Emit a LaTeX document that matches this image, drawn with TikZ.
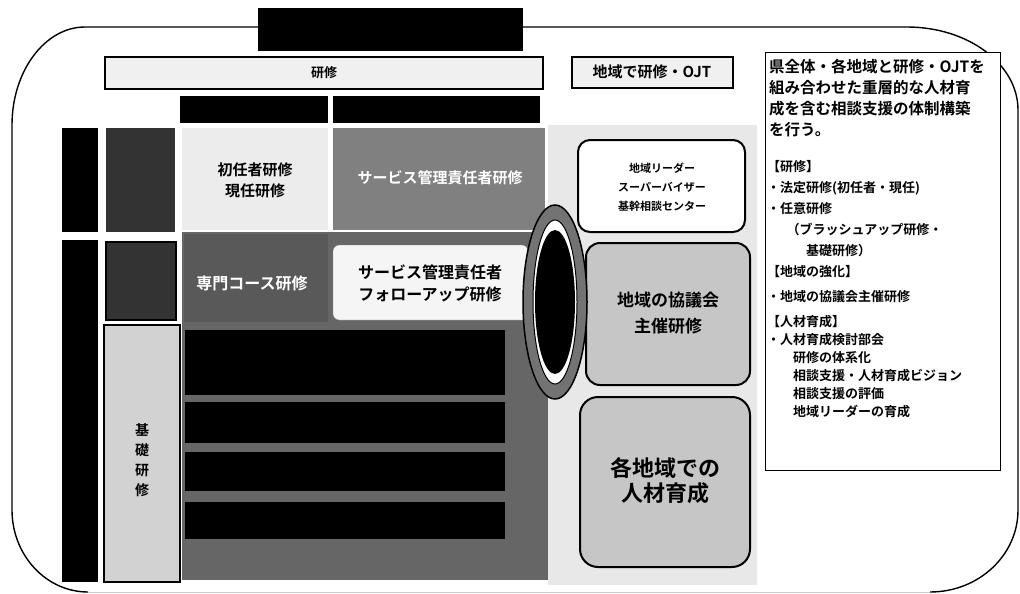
\documentclass[tikz,border=0pt]{standalone}
\usepackage{fontspec}
\newfontfamily\jp{Noto Sans CJK JP}[BoldFont={Noto Sans CJK JP Bold}]
\usetikzlibrary{positioning}
\tikzset{
  lbl/.style={font=\jp\bfseries, align=center, inner sep=0pt},
  banner/.style={draw=black, line width=2pt, fill=gray!12},
  darkbox/.style={fill=black!80},
  roundbox/.style={draw=black, line width=2pt, rounded corners=14pt},
}
\begin{document}
\begin{tikzpicture}[x=1pt, y=-1pt]
\useasboundingbox (0,0) rectangle (1020,594);
% outer frame
\draw[line width=1.4pt] (88,592) .. controls (46,592) and (12,555) .. (12,510) -- (12,125)
  .. controls (12,71) and (45,27) .. (85,27) -- (907,27)
  .. controls (968,27) and (1018,64) .. (1018,110) -- (1018,510)
  .. controls (1018,555) and (979,592) .. (930,592);
\draw[gray!40, line width=1pt] (88,592) -- (930,592);
\fill (258,8) rectangle (523,51);
% banners
\draw[banner] (105,57) rectangle (543,89);
\node[lbl, font=\jp\bfseries\fontsize{13}{15}\selectfont] (kenshu) at (324,73) {研修};
\draw[banner] (572,57) rectangle (733,88);
\node[lbl, font=\jp\bfseries\fontsize{15}{17}\selectfont] (ojt) at (652,72) {地域で研修・OJT};
% headers and left column
\fill (180,96) rectangle (328,123);
\fill (333,96) rectangle (540,123);
\fill (62,128) rectangle (98,232);
\fill (62,240) rectangle (98,582);
\fill[darkbox] (106,128) rectangle (175,232);
\draw[darkbox, draw=black, line width=1.5pt] (106,242) rectangle (176,320);
\draw[fill=gray!35, line width=2pt] (104,325) rectangle (180,582);
\node[lbl, font=\jp\bfseries\fontsize{14}{20}\selectfont] (kiso) at (142,460) {基\\礎\\研\\修};
% middle block
\fill[black!60] (182,232) rectangle (548,580);
\fill[gray!15] (182,128) rectangle (328,230);
\node[lbl, font=\jp\bfseries\fontsize{15}{21}\selectfont] (shonin) at (255,180) {初任者研修\\現任研修};
\fill[black!50] (333,128) rectangle (545,230);
\node[lbl, white, font=\jp\bfseries\fontsize{15}{17}\selectfont] (sabi) at (440,178) {サービス管理責任者研修};
\fill[black!65] (184,234) rectangle (328,322);
\node[lbl, white, font=\jp\bfseries\fontsize{16}{18}\selectfont] (senmon) at (252,283) {専門コース研修};
\draw[fill=gray!8, draw=gray, rounded corners=6pt] (333,245) rectangle (528,320);
\node[lbl, font=\jp\bfseries\fontsize{16}{22}\selectfont] (follow) at (430,283) {サービス管理責任者\\フォローアップ研修};
\fill (185,330) rectangle (505,395);
\fill (185,402) rectangle (505,443);
\fill (185,452) rectangle (505,491);
\fill (185,502) rectangle (505,539);
% region side
\fill[gray!18] (548,125) rectangle (757,585);
\draw[roundbox, fill=white, rounded corners=12pt] (578,140) rectangle (745,232);
\node[lbl, font=\jp\bfseries\fontsize{11}{19}\selectfont] (leader) at (662,187) {地域リーダー\\スーパーバイザー\\基幹相談センター};
\draw[roundbox, fill=gray!45] (586,243) rectangle (750,385);
\node[lbl, font=\jp\bfseries\fontsize{17}{26}\selectfont] (kyogi) at (668,313) {地域の協議会\\主催研修};
\draw[roundbox, fill=gray!45, rounded corners=18pt] (580,397) rectangle (750,567);
\node[lbl, font=\jp\bfseries\fontsize{22}{25}\selectfont] (ikusei) at (665,481) {各地域での\\人材育成};
% ring
\draw[fill=black!55, line width=1.5pt] (555,302) ellipse [x radius=32, y radius=97];
\draw[fill=white, line width=1pt] (555,302) ellipse [x radius=22, y radius=82];
\fill (555,302) ellipse [x radius=20, y radius=72];
% text panel
\draw[fill=white, line width=1pt] (765,53) rectangle (1000,470);
\node[lbl, anchor=north west, align=left, font=\jp\bfseries\fontsize{15.5}{21}\selectfont] (intro) at (769,59)
  {県全体・各地域と研修・OJTを\\組み合わせた重層的な人材育\\成を含む相談支援の体制構築\\を行う。};
\node[lbl, anchor=north west, align=left, font=\jp\bfseries\fontsize{13}{21}\selectfont] (list) at (767,160)
  {【研修】\\・法定研修(初任者・現任)\\・任意研修\\\hspace{1.5em}（ブラッシュアップ研修・\\\hspace{3em}基礎研修）\\【地域の強化】\\[4pt]
   ・地域の協議会主催研修\\[4pt]【人材育成】\\[-3pt]・人材育成検討部会\\[-3pt]\hspace{2em}研修の体系化\\[-3pt]
   \hspace{2em}相談支援・人材育成ビジョン\\[-3pt]\hspace{2em}相談支援の評価\\[-3pt]\hspace{2em}地域リーダーの育成};
\end{tikzpicture}
\end{document}
